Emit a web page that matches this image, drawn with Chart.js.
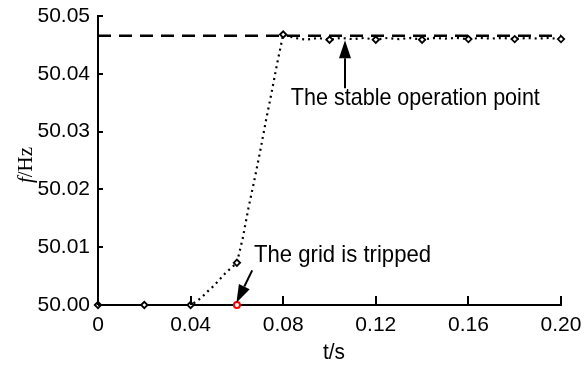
<!DOCTYPE html>
<html>
<head>
<meta charset="utf-8">
<script src="https://cdn.jsdelivr.net/npm/chart.js@4"></script>
<style>
  body { margin: 0; background: #fff; }
  #wrap { width: 585px; height: 368px; }
</style>
</head>
<body>
<div id="wrap"><canvas id="chart"></canvas></div>
<script>
// frequency response after the grid trip
const tValues = [0, 0.01, 0.02, 0.03, 0.04, 0.0425, 0.045, 0.0475, 0.05, 0.0525, 0.055, 0.0575, 0.06,
  0.0625, 0.065, 0.0675, 0.07, 0.0725, 0.075, 0.0775, 0.08,
  0.085, 0.09, 0.095, 0.10, 0.105, 0.11, 0.115, 0.12, 0.125, 0.13, 0.135, 0.14,
  0.145, 0.15, 0.155, 0.16, 0.165, 0.17, 0.175, 0.18, 0.185, 0.19, 0.195, 0.20];
const fValues = [50.0000, 50.0000, 50.0000, 50.0000, 50.0000, 50.0006, 50.0014, 50.0024, 50.0033, 50.0044, 50.0055, 50.0064, 50.0073,
  50.0115, 50.0168, 50.0215, 50.0265, 50.0318, 50.0368, 50.0420, 50.0468,
  50.0462, 50.0459, 50.0462, 50.0459, 50.0462, 50.0460, 50.0462, 50.0459, 50.0462, 50.0460, 50.0462, 50.0459,
  50.0462, 50.0461, 50.0462, 50.0460, 50.0462, 50.0461, 50.0462, 50.0460, 50.0462, 50.0461, 50.0462, 50.0460];
const markerTimes = [0, 0.02, 0.04, 0.06, 0.08, 0.10, 0.12, 0.14, 0.16, 0.18, 0.20];

const stableT = [0, 0.20];
const stableF = [50.0466, 50.0466];

const tripT = [0.06];
const tripF = [50.00];

const xTicks = [0, 0.04, 0.08, 0.12, 0.16, 0.20];
const yTicks = [50.00, 50.01, 50.02, 50.03, 50.04, 50.05];

const tickFamily = '"Liberation Sans", Arial, sans-serif';
const noteFont = '24px "Liberation Sans Narrow", "Liberation Sans", sans-serif';

const freqData = tValues.map((t, i) => ({ x: t, y: fValues[i] }));
const freqRadius = tValues.map(t => markerTimes.some(m => Math.abs(m - t) < 1e-6) ? 3.2 : 0);

function arrow(ctx, x1, y1, x2, y2) {
  const a = Math.atan2(y2 - y1, x2 - x1);
  const hl = 18, hw = 6;
  const bx = x2 - hl * Math.cos(a), by = y2 - hl * Math.sin(a);
  ctx.beginPath();
  ctx.moveTo(x1, y1);
  ctx.lineTo(bx, by);
  ctx.lineWidth = 2;
  ctx.strokeStyle = '#000';
  ctx.stroke();
  ctx.beginPath();
  ctx.moveTo(x2, y2);
  ctx.lineTo(bx + hw * Math.sin(a), by - hw * Math.cos(a));
  ctx.lineTo(bx - hw * Math.sin(a), by + hw * Math.cos(a));
  ctx.closePath();
  ctx.fillStyle = '#000';
  ctx.fill();
}

// condensed text like the original figure
function narrowText(ctx, text, x, y, width) {
  ctx.save();
  const w = ctx.measureText(text).width;
  ctx.translate(x, y);
  ctx.scale(width / w, 1);
  ctx.fillText(text, 0, 0);
  ctx.restore();
}

const decor = {
  id: 'decor',
  afterDraw(chart) {
    const ctx = chart.ctx;
    const xs = chart.scales.x, ys = chart.scales.y;
    const area = chart.chartArea;
    ctx.save();
    // inward ticks
    ctx.strokeStyle = '#000';
    ctx.lineWidth = 2;
    xTicks.forEach(v => {
      const px = Math.round(xs.getPixelForValue(v));
      ctx.beginPath();
      ctx.moveTo(px, area.bottom);
      ctx.lineTo(px, area.bottom - 9);
      ctx.stroke();
    });
    yTicks.forEach(v => {
      const py = Math.round(ys.getPixelForValue(v));
      ctx.beginPath();
      ctx.moveTo(area.left, py);
      ctx.lineTo(area.left + 5, py);
      ctx.stroke();
    });
    // annotations
    ctx.fillStyle = '#000';
    ctx.font = noteFont;
    ctx.textBaseline = 'alphabetic';
    ctx.textAlign = 'left';
    const sx = xs.getPixelForValue(0.1067);
    arrow(ctx, sx, ys.getPixelForValue(50.0375), sx, ys.getPixelForValue(50.0458));
    narrowText(ctx, 'The stable operation point', xs.getPixelForValue(0.0833), ys.getPixelForValue(50.0346), 249);
    arrow(ctx, xs.getPixelForValue(0.0666), ys.getPixelForValue(50.0060),
      xs.getPixelForValue(0.0598), ys.getPixelForValue(50.0004));
    narrowText(ctx, 'The grid is tripped', xs.getPixelForValue(0.0674), ys.getPixelForValue(50.0074), 177);
    // axis titles
    ctx.font = '22px ' + tickFamily;
    ctx.textBaseline = 'middle';
    narrowText(ctx, 't/s', 323, 353, 22);
    ctx.translate(26, 165);
    ctx.rotate(-Math.PI / 2);
    ctx.font = 'italic 21px "Liberation Serif", "Times New Roman", serif';
    const fw = ctx.measureText('f').width;
    ctx.font = '21px "Liberation Serif", "Times New Roman", serif';
    const rw = ctx.measureText('/Hz').width;
    const start = -(fw + rw) / 2;
    ctx.textAlign = 'left';
    ctx.font = 'italic 21px "Liberation Serif", "Times New Roman", serif';
    ctx.fillText('f', start, 0);
    ctx.font = '21px "Liberation Serif", "Times New Roman", serif';
    ctx.fillText('/Hz', start + fw, 0);
    ctx.restore();
  }
};

new Chart(document.getElementById('chart'), {
  type: 'line',
  data: {
    datasets: [
      {
        data: stableT.map((t, i) => ({ x: t, y: stableF[i] })),
        borderColor: '#000',
        borderWidth: 2.5,
        borderDash: [13, 8],
        pointRadius: 0,
        order: 2
      },
      {
        data: freqData,
        borderColor: '#000',
        borderWidth: 2.2,
        borderDash: [2, 4],
        pointStyle: 'rectRot',
        pointRadius: freqRadius,
        pointBorderWidth: 1.8,
        pointBorderColor: '#000',
        pointBackgroundColor: '#fff',
        tension: 0,
        order: 1
      },
      {
        data: tripT.map((t, i) => ({ x: t, y: tripF[i] })),
        showLine: false,
        pointStyle: 'circle',
        pointRadius: 3,
        pointBorderWidth: 2,
        pointBorderColor: '#ff0000',
        pointBackgroundColor: '#fff',
        order: 0
      }
    ]
  },
  options: {
    responsive: true,
    maintainAspectRatio: false,
    animation: false,
    clip: false,
    layout: { padding: { top: 16, right: 24, left: 0, bottom: 0 } },
    plugins: { legend: { display: false }, tooltip: { enabled: false } },
    scales: {
      x: {
        type: 'linear',
        min: 0,
        max: 0.2,
        afterBuildTicks: s => { s.ticks = xTicks.map(v => ({ value: v })); },
        afterFit: s => { s.height = 63; s.paddingLeft = 0; s.paddingRight = 0; },
        ticks: {
          color: '#000',
          font: { family: tickFamily, size: 21 },
          padding: 8,
          maxRotation: 0,
          callback: v => v === 0 ? '0' : v.toFixed(2)
        },
        grid: { display: false, drawTicks: false },
        border: { display: true, color: '#000', width: 2 }
      },
      y: {
        min: 50.00,
        max: 50.05,
        afterBuildTicks: s => { s.ticks = yTicks.map(v => ({ value: v })); },
        afterFit: s => { s.width = 98; s.paddingTop = 0; s.paddingBottom = 0; },
        ticks: {
          color: '#000',
          font: { family: tickFamily, size: 21 },
          padding: 8,
          callback: v => v.toFixed(2)
        },
        grid: { display: false, drawTicks: false },
        border: { display: true, color: '#000', width: 2 }
      }
    }
  },
  plugins: [decor]
});
</script>
</body>
</html>
